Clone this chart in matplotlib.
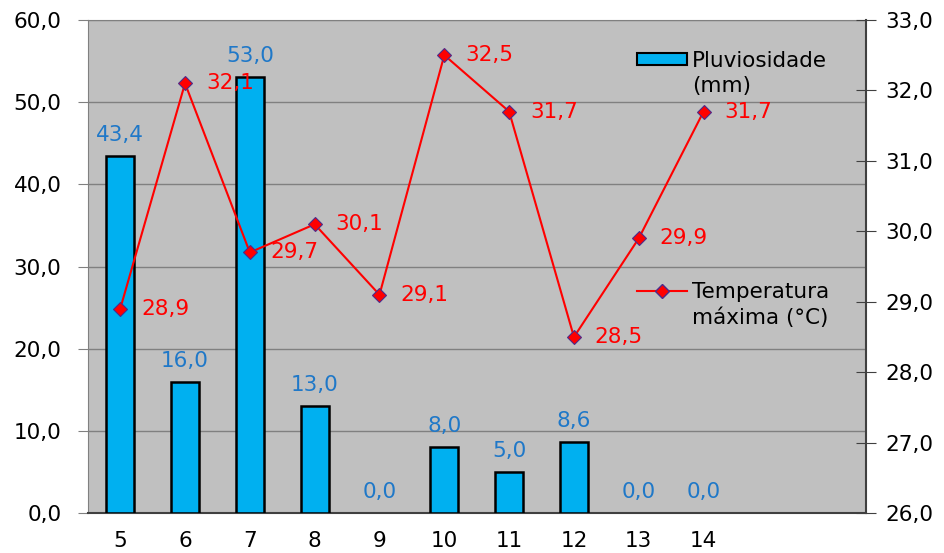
import matplotlib.pyplot as plt
from matplotlib.patches import Patch
from matplotlib.lines import Line2D

plt.rcParams['font.family'] = ['DejaVu Sans']

dias = ['5', '6', '7', '8', '9', '10', '11', '12', '13', '14', '', '']
chuva = [43.4, 16.0, 53.0, 13.0, 0.0, 8.0, 5.0, 8.6, 0.0, 0.0]
temp_max = [28.9, 32.1, 29.7, 30.1, 29.1, 32.5, 31.7, 28.5, 29.9, 31.7]

FS = 15.5

def virgula(v):
    return ('%.1f' % v).replace('.', ',')

fig = plt.figure(figsize=(9.44, 5.53), dpi=100)
ax = fig.add_axes([0.093, 0.072, 0.824, 0.892])
ax.set_facecolor('#c0c0c0')
ax.set_zorder(1)

x = list(range(len(chuva)))
barras = ax.bar(x, chuva, width=0.43, color='#00b0f0', edgecolor='black', linewidth=1.8, zorder=3)
for b, v in zip(barras, chuva):
    if v == 0:
        b.set_visible(False)
for i, v in zip(x, chuva):
    ax.annotate(virgula(v), (i, v), xytext=(0, 8), textcoords='offset points',
                ha='center', va='bottom', color='#1f78c8', fontsize=FS)

ax.set_xlim(-0.5, len(dias) - 0.5)
ax.set_xticks(range(len(dias)))
ax.set_xticklabels(dias, fontsize=FS)
ax.tick_params(axis='x', length=0, pad=13)
ax.set_ylim(0, 60)
ax.set_yticks(range(0, 61, 10))
ax.set_yticklabels([virgula(v) for v in range(0, 61, 10)], fontsize=FS)
ax.tick_params(axis='y', length=7, color='#808080', pad=12)
ax.grid(axis='y', color='#808080', linewidth=1, zorder=0)
ax.set_axisbelow(True)
for s in ['left', 'top']:
    ax.spines[s].set_color('#808080')
ax.spines['right'].set_visible(False)
ax.spines['bottom'].set_color('#404040')
ax.spines['bottom'].set_linewidth(1.5)

ax2 = ax.twinx()
ax2.set_zorder(2)
ax2.plot(x, temp_max, color='red', linewidth=1.5, marker='D', markersize=7,
         markerfacecolor='red', markeredgecolor='#4b2c8c', markeredgewidth=0.8)
for i, v in zip(x, temp_max):
    ax2.annotate(virgula(v), (i, v), xytext=(15, 0), textcoords='offset points',
                 ha='left', va='center', color='red', fontsize=FS)
ax2.set_ylim(26, 33)
ax2.set_yticks(range(26, 34))
ax2.set_yticklabels([virgula(v) for v in range(26, 34)], fontsize=FS)
ax2.tick_params(axis='y', direction='inout', length=15, color='#404040', pad=7)
for s in ['left', 'top', 'bottom']:
    ax2.spines[s].set_visible(False)
ax2.spines['right'].set_color('#404040')
ax2.spines['right'].set_linewidth(1.5)

# legendas: o símbolo fica na primeira linha do texto
h1 = Patch(facecolor='#00b0f0', edgecolor='black', linewidth=1.5)
h2 = Line2D([], [], color='red', linewidth=1.5, marker='D', markersize=7,
            markerfacecolor='red', markeredgecolor='#4b2c8c')
vazio = Patch(facecolor='none', edgecolor='none')
opts = dict(frameon=False, fontsize=FS, handlelength=2.3, handleheight=0.45,
            handletextpad=0.25, labelspacing=0.25, borderpad=0, borderaxespad=0,
            loc='upper left')
leg1 = fig.legend([h1, vazio], ['Pluviosidade', '(mm)'],
                  bbox_to_anchor=(0.675, 0.908), **opts)
leg2 = fig.legend([h2, vazio], ['Temperatura', 'máxima (°C)'],
                  bbox_to_anchor=(0.675, 0.49), **opts)
leg1.set_zorder(5)
leg2.set_zorder(5)

fig.savefig('out.png', dpi=100)
